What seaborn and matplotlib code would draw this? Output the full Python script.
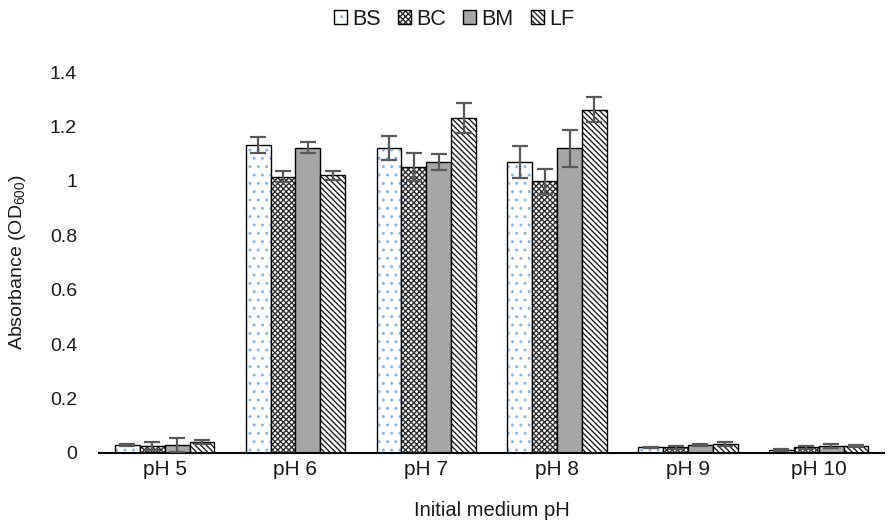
import matplotlib
matplotlib.use("Agg")
import matplotlib.pyplot as plt
import matplotlib.colors as mcolors
import pandas as pd
import seaborn as sns

# data
ph_labels = ["pH 5", "pH 6", "pH 7", "pH 8", "pH 9", "pH 10"]
strains = ["BS", "BC", "BM", "LF"]

bs_mean = [0.030, 1.132, 1.120, 1.070, 0.020, 0.010]
bc_mean = [0.025, 1.015, 1.052, 0.998, 0.020, 0.020]
bm_mean = [0.030, 1.122, 1.070, 1.120, 0.030, 0.026]
lf_mean = [0.040, 1.020, 1.230, 1.262, 0.032, 0.026]

bs_err = [0.003, 0.028, 0.045, 0.060, 0.003, 0.004]
bc_err = [0.015, 0.020, 0.052, 0.045, 0.007, 0.005]
bm_err = [0.025, 0.020, 0.030, 0.068, 0.003, 0.007]
lf_err = [0.007, 0.015, 0.055, 0.045, 0.007, 0.003]

means = [bs_mean, bc_mean, bm_mean, lf_mean]
errs = [bs_err, bc_err, bm_err, lf_err]

rows = []
for s, vals in zip(strains, means):
    for ph, v in zip(ph_labels, vals):
        rows.append({"pH": ph, "strain": s, "value": v})
df = pd.DataFrame(rows)

sns.set_theme(style="white")
plt.rcParams["font.family"] = ["Liberation Sans", "DejaVu Sans"]
plt.rcParams["mathtext.fontset"] = "custom"
plt.rcParams["mathtext.rm"] = "Liberation Sans"
plt.rcParams["mathtext.it"] = "Liberation Sans:italic"
plt.rcParams["hatch.linewidth"] = 1.0
plt.rcParams["text.color"] = "#1a1a1a"

fig = plt.figure(figsize=(8.94, 5.26), dpi=100)
ax = fig.add_axes([0.111, 0.139, 0.878, 0.724])

sns.barplot(data=df, x="pH", y="value", hue="strain", order=ph_labels,
            hue_order=strains, errorbar=None, width=0.76, gap=0,
            legend=False, ax=ax, palette=["white"] * 4)

styles = {
    "BS": dict(face="white", hatch="..", hcolor="#8fb8e0"),
    "BC": dict(face="white", hatch="xxxxxx", hcolor="#303030"),
    "BM": dict(face="#a6a6a6", hatch=None, hcolor=None),
    "LF": dict(face="white", hatch="\\\\\\\\\\\\", hcolor="#202020"),
}

for s, cont, err in zip(strains, ax.containers, errs):
    st = styles[s]
    for p in cont.patches:
        p.set_facecolor(st["face"])
        p.set_edgecolor("black")
        p.set_linewidth(1.0)
        if st["hatch"]:
            p.set_hatch(st["hatch"])
            hc = mcolors.to_rgba(st["hcolor"])
            if hasattr(p, "set_hatchcolor"):
                p.set_hatchcolor(hc)
            else:
                p._hatch_color = hc
    xs = [p.get_x() + p.get_width() / 2 for p in cont.patches]
    ys = [p.get_height() for p in cont.patches]
    ax.errorbar(xs, ys, yerr=err, fmt="none", ecolor="#595959",
                elinewidth=1.6, capsize=6, capthick=1.6, zorder=5)

ax.set_xlim(-0.5, len(ph_labels) - 0.5)
ax.set_ylim(0, 1.4)
ax.set_yticks([0, 0.2, 0.4, 0.6, 0.8, 1.0, 1.2, 1.4])
ax.set_yticklabels(["0", "0.2", "0.4", "0.6", "0.8", "1", "1.2", "1.4"])
ax.tick_params(axis="x", labelsize=15, colors="#1a1a1a", length=0, pad=5)
ax.tick_params(axis="y", labelsize=14, colors="#1a1a1a", length=0, pad=16)
ax.set_xlabel("Initial medium pH", fontsize=14.5, labelpad=16, color="#1a1a1a")
ax.set_ylabel("Absorbance (OD$_{600}$)", fontsize=14, labelpad=16,
              color="#1a1a1a")

for side in ["top", "right", "left"]:
    ax.spines[side].set_visible(False)
ax.spines["bottom"].set_color("black")
ax.spines["bottom"].set_linewidth(1.5)
ax.grid(False)

fig.legend(handles=list(ax.containers), labels=strains, loc="upper center",
           bbox_to_anchor=(0.508, 1.02), ncol=4, frameon=False, fontsize=15.5,
           handlelength=0.6, handleheight=0.6, handletextpad=0.25,
           columnspacing=0.8)

fig.savefig("out.png", dpi=100)
